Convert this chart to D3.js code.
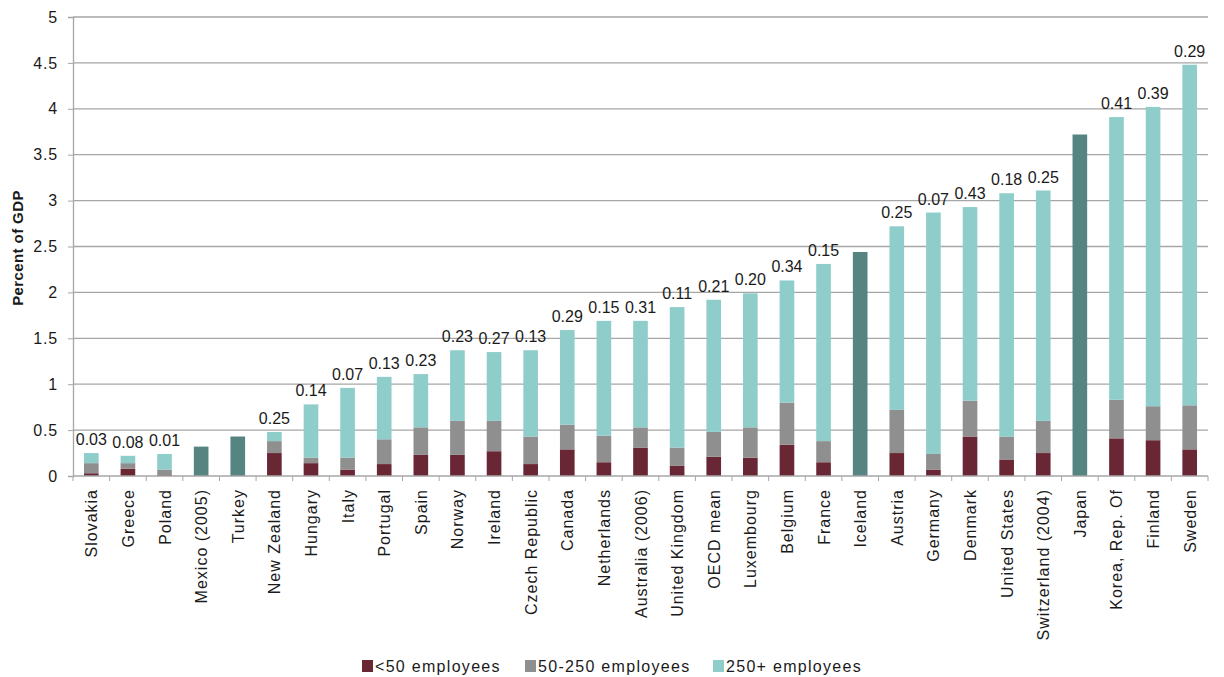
<!DOCTYPE html>
<html>
<head>
<meta charset="utf-8">
<script src="https://cdn.jsdelivr.net/npm/d3@7"></script>
<style>
  body { margin: 0; background: #fff; }
  text { font-family: "Liberation Sans", Arial, sans-serif; }
</style>
</head>
<body>
<script>
// data
var countries = ["Slovakia", "Greece", "Poland", "Mexico (2005)", "Turkey", "New Zealand", "Hungary", "Italy",
    "Portugal", "Spain", "Norway", "Ireland", "Czech Republic", "Canada", "Netherlands", "Australia (2006)",
    "United Kingdom", "OECD mean", "Luxembourg", "Belgium", "France", "Iceland", "Austria", "Germany",
    "Denmark", "United States", "Switzerland (2004)", "Japan", "Korea, Rep. Of", "Finland", "Sweden"];
var small  = [0.03, 0.08, 0.01, null, null, 0.25, 0.14, 0.07, 0.13, 0.23, 0.23, 0.27, 0.13, 0.29, 0.15, 0.31,
    0.11, 0.21, 0.20, 0.34, 0.15, null, 0.25, 0.07, 0.43, 0.18, 0.25, null, 0.41, 0.39, 0.29];
var medium = [0.11, 0.06, 0.06, null, null, 0.13, 0.06, 0.13, 0.27, 0.30, 0.37, 0.33, 0.30, 0.27, 0.29, 0.22,
    0.20, 0.27, 0.33, 0.46, 0.23, null, 0.47, 0.17, 0.39, 0.25, 0.35, null, 0.42, 0.37, 0.48];
var large  = [0.11, 0.08, 0.17, null, null, 0.10, 0.58, 0.76, 0.68, 0.58, 0.77, 0.75, 0.94, 1.03, 1.25, 1.16,
    1.53, 1.44, 1.46, 1.33, 1.93, null, 2.00, 2.63, 2.11, 2.65, 2.51, null, 3.08, 3.26, 3.71];
var totalOnly = [null, null, null, 0.32, 0.43, null, null, null, null, null, null, null, null, null, null, null,
    null, null, null, null, null, 2.44, null, null, null, null, null, 3.72, null, null, null];
var seriesNames = ["<50 employees", "50-250 employees", "250+ employees"];
var yTicks = [0, 0.5, 1, 1.5, 2, 2.5, 3, 3.5, 4, 4.5, 5];

var colors = ["#692735", "#8f8f8f", "#8fcdcb"];
var solidColor = "#558481";

var W = 1224, H = 677;
var mLeft = 73, mRight = 1208, mTop = 17, mBottom = 476;

var svg = d3.select("body").append("svg")
    .attr("width", W)
    .attr("height", H);

var x = d3.scaleBand().domain(countries).range([mLeft, mRight]).paddingInner(0.6).paddingOuter(0.3);
var y = d3.scaleLinear().domain([0, 5]).range([mBottom, mTop]);

// gridlines
svg.append("g")
    .selectAll("line")
    .data(yTicks.slice(1))
    .enter().append("line")
    .attr("x1", mLeft).attr("x2", mRight)
    .attr("y1", function(d) { return y(d); })
    .attr("y2", function(d) { return y(d); })
    .attr("stroke", "#a6a6a6")
    .attr("stroke-width", 1.3);

// stacked bars
var rows = countries.map(function(c, i) {
    return { country: c, s0: small[i] || 0, s1: medium[i] || 0, s2: large[i] || 0 };
});
var stack = d3.stack().keys(["s0", "s1", "s2"]);
var layers = stack(rows.filter(function(r, i) { return totalOnly[i] == null; }));

svg.append("g")
    .selectAll("g")
    .data(layers)
    .enter().append("g")
    .attr("fill", function(d, i) { return colors[i]; })
    .selectAll("rect")
    .data(function(d) { return d; })
    .enter().append("rect")
    .attr("x", function(d) { return x(d.data.country); })
    .attr("width", x.bandwidth())
    .attr("y", function(d) { return y(d[1]); })
    .attr("height", function(d) { return y(d[0]) - y(d[1]); });

// bars with only a total
svg.append("g")
    .selectAll("rect")
    .data(countries.filter(function(c, i) { return totalOnly[i] != null; }))
    .enter().append("rect")
    .attr("x", function(c) { return x(c); })
    .attr("width", x.bandwidth())
    .attr("y", function(c) { return y(totalOnly[countries.indexOf(c)]); })
    .attr("height", function(c) { return mBottom - y(totalOnly[countries.indexOf(c)]); })
    .attr("fill", solidColor);

// value labels (<50 employees share) above the stacks
svg.append("g")
    .selectAll("text")
    .data(layers[2])
    .enter().append("text")
    .attr("x", function(d) { return x(d.data.country) + x.bandwidth() / 2; })
    .attr("y", function(d) { return y(d[1]) - 8; })
    .attr("text-anchor", "middle")
    .attr("font-size", 16)
    .attr("fill", "#1a1a1a")
    .text(function(d) { return d3.format(".2f")(d.data.s0); });

// y axis
var yAxis = svg.append("g")
    .attr("transform", "translate(" + mLeft + ",0)")
    .call(d3.axisLeft(y).tickValues(yTicks).tickSize(5).tickFormat(d3.format("")));
yAxis.select(".domain").attr("stroke", "#a6a6a6").attr("stroke-width", 1.3);
yAxis.selectAll(".tick line").attr("stroke", "#a6a6a6");
yAxis.selectAll(".tick text")
    .attr("font-size", 16)
    .attr("letter-spacing", 0.8)
    .attr("fill", "#1a1a1a")
    .attr("x", -15)
    .style("font-family", "Liberation Sans, Arial, sans-serif");

svg.append("text")
    .attr("transform", "translate(23,248) rotate(-90)")
    .attr("text-anchor", "middle")
    .attr("font-size", 15)
    .attr("letter-spacing", 0.4)
    .attr("font-weight", "bold")
    .attr("fill", "#1a1a1a")
    .text("Percent of GDP");

// x axis
svg.append("line")
    .attr("x1", mLeft).attr("x2", mRight)
    .attr("y1", mBottom).attr("y2", mBottom)
    .attr("stroke", "#a6a6a6")
    .attr("stroke-width", 1.3);

svg.append("g")
    .selectAll("line")
    .data(d3.range(countries.length + 1))
    .enter().append("line")
    .attr("x1", function(i) { return mLeft + (mRight - mLeft) * i / countries.length; })
    .attr("x2", function(i) { return mLeft + (mRight - mLeft) * i / countries.length; })
    .attr("y1", mBottom).attr("y2", mBottom + 5)
    .attr("stroke", "#a6a6a6");

svg.append("g")
    .selectAll("text")
    .data(countries)
    .enter().append("text")
    .attr("transform", function(c) {
        return "translate(" + (x(c) + x.bandwidth() / 2 + 6) + "," + (mBottom + 13) + ") rotate(-90)";
    })
    .attr("text-anchor", "end")
    .attr("font-size", 16)
    .attr("letter-spacing", 1)
    .attr("fill", "#1a1a1a")
    .text(function(c) { return c; });

// legend
var legendX = [362, 525, 713];
var legend = svg.append("g")
    .selectAll("g")
    .data(seriesNames)
    .enter().append("g")
    .attr("transform", function(d, i) { return "translate(" + legendX[i] + ",660)"; });
legend.append("rect")
    .attr("width", 11).attr("height", 12)
    .attr("fill", function(d, i) { return colors[i]; });
legend.append("text")
    .attr("x", 13).attr("y", 12)
    .attr("font-size", 16)
    .attr("letter-spacing", 1.3)
    .attr("fill", "#1a1a1a")
    .text(function(d) { return d; });
</script>
</body>
</html>
